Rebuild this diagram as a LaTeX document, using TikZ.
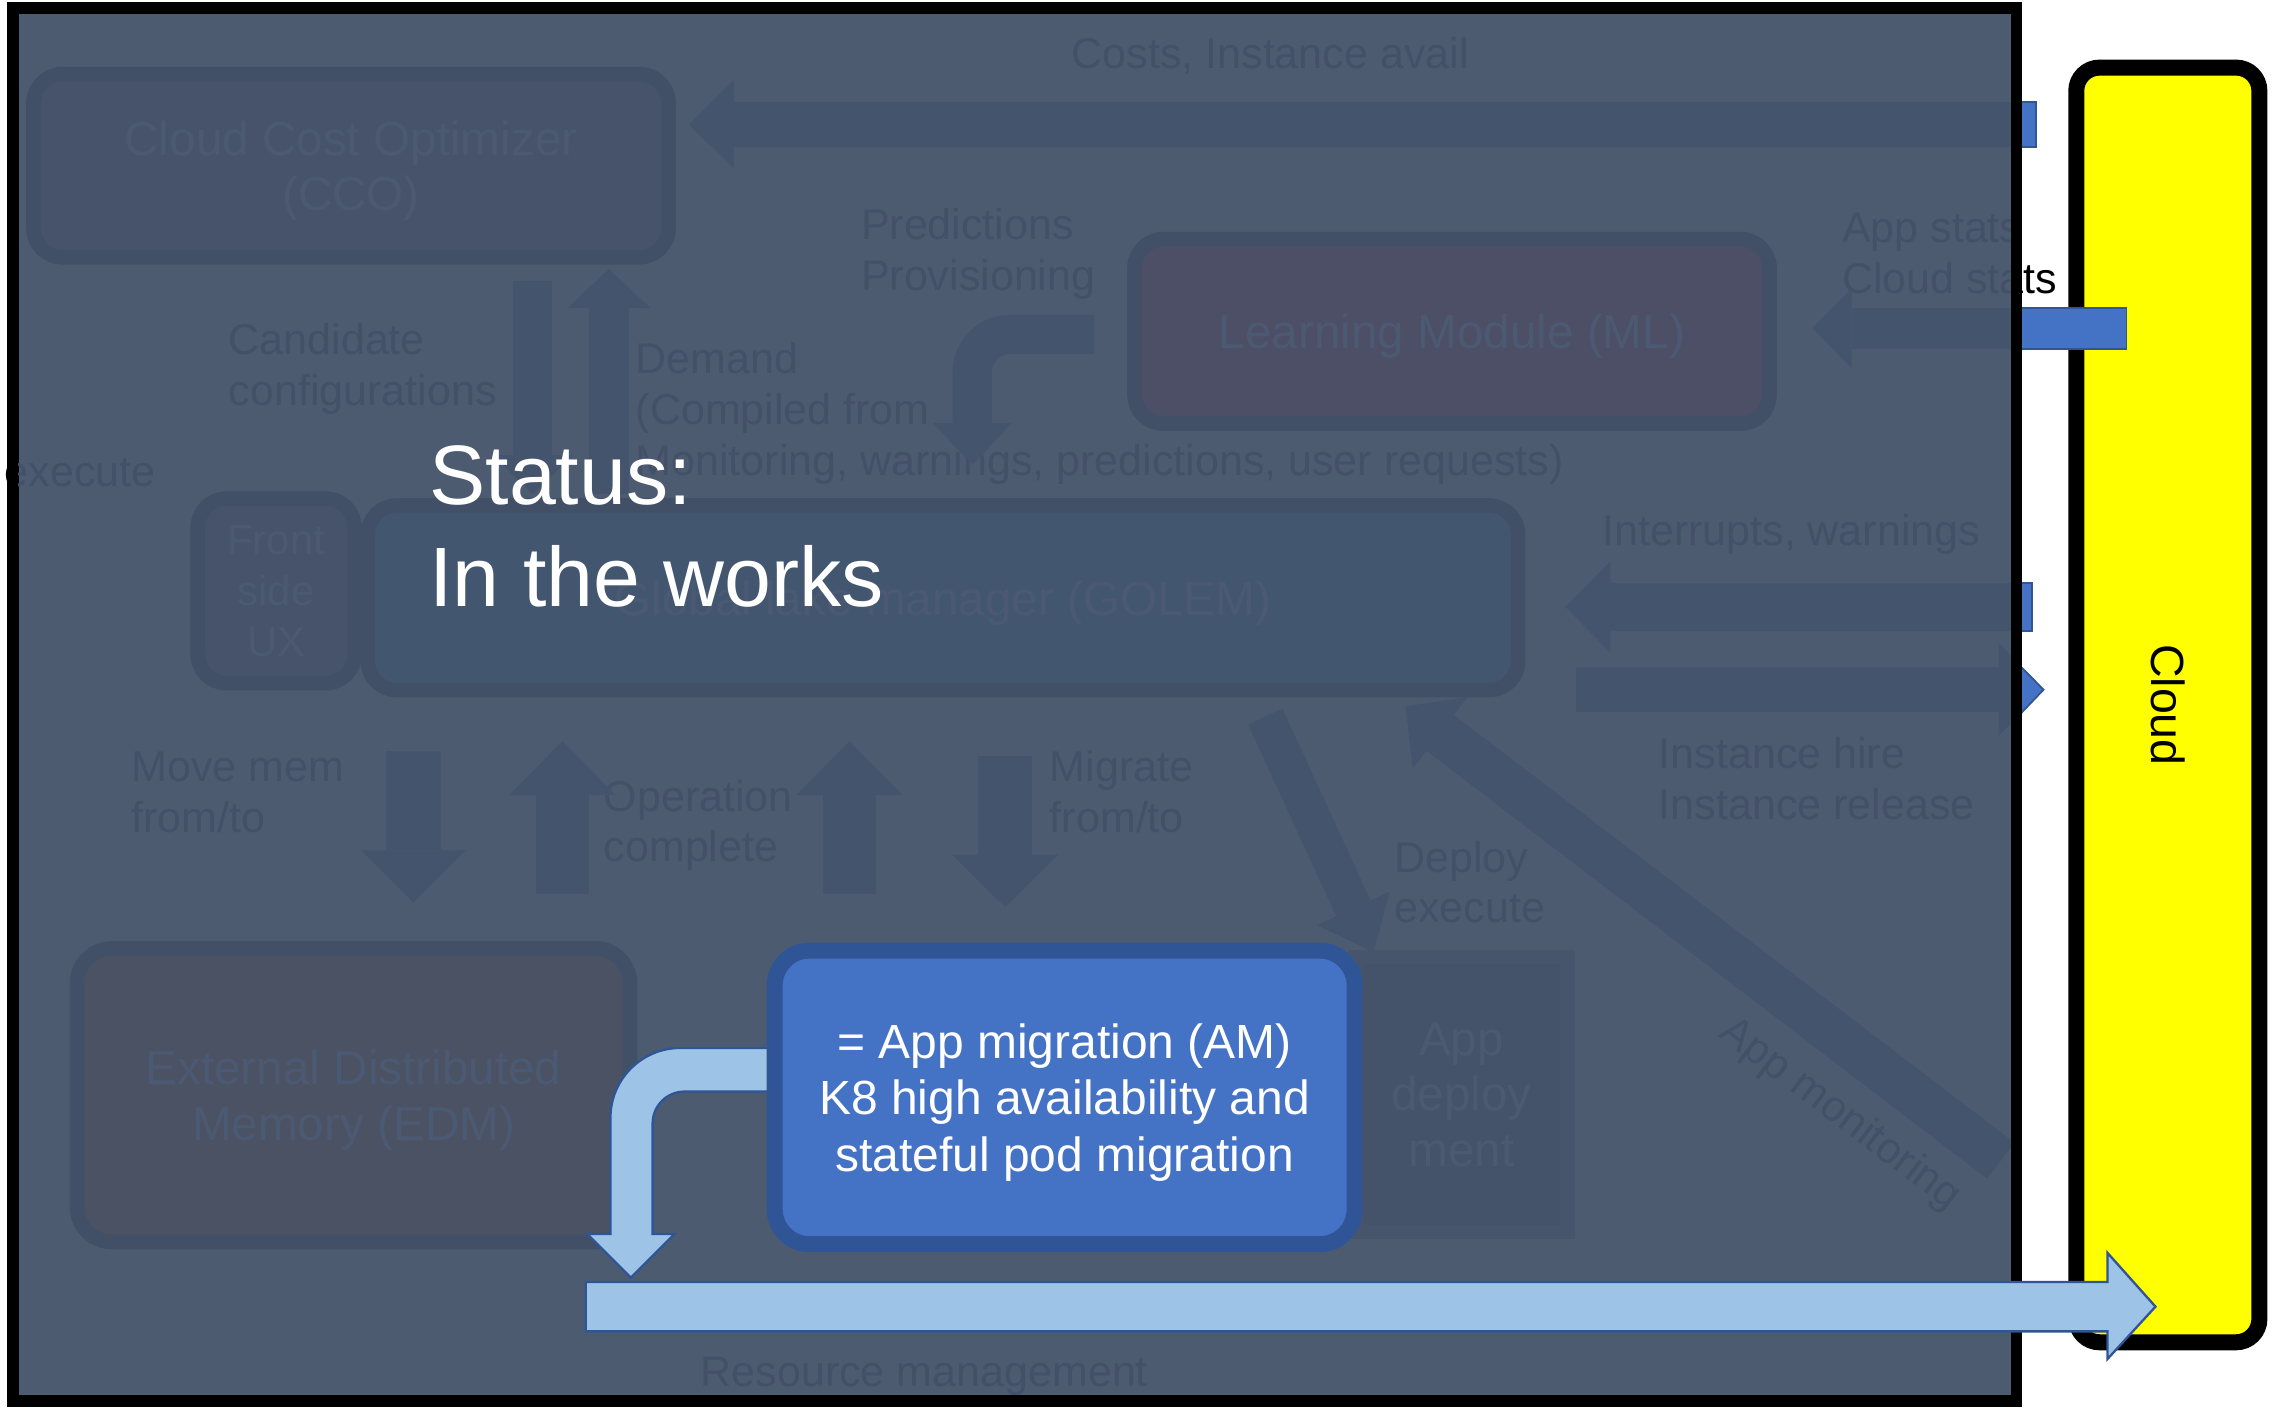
\documentclass[tikz,border=0pt]{standalone}
\usepackage{fontspec}
\setmainfont{Liberation Sans}
\usetikzlibrary{arrows.meta}

\definecolor{slate}{HTML}{4D5B71}
\definecolor{boxline}{HTML}{415067}
\definecolor{boxtext}{HTML}{4B5A72}
\definecolor{labtext}{HTML}{435068}
\definecolor{mutearrow}{HTML}{43546C}
\definecolor{ccofill}{HTML}{46536B}
\definecolor{mlfill}{HTML}{4C4F66}
\definecolor{golemfill}{HTML}{42576F}
\definecolor{edmfill}{HTML}{4A5264}
\definecolor{depfill}{HTML}{44526A}
\definecolor{depline}{HTML}{47556C}
\definecolor{amblue}{HTML}{4472C4}
\definecolor{amline}{HTML}{2F5597}
\definecolor{ltblue}{HTML}{9DC3E6}
\definecolor{cloudyel}{HTML}{FFFF00}

\tikzset{
  box/.style={draw=boxline, line width=5pt, rounded corners=10pt, inner sep=0pt,
    align=center, text depth=0pt, text=boxtext, font=\fontsize{16.4}{19}\selectfont},
  lab/.style={anchor=base west, inner sep=0pt, align=left, text=labtext,
    font=\fontsize{14.8}{17.5}\selectfont},
  fat/.style n args={3}{draw=mutearrow, line width=#1,
    -{Triangle[width=#2, length=#3, line width=0pt]}},
  stub/.style={fill=amblue, draw=amline, line width=0.6pt},
  lbarrow/.style={fill=ltblue, draw=amline, line width=0.8pt},
}

\begin{document}
\begin{tikzpicture}[x=0.5pt, y=-0.5pt]
\useasboundingbox (0,0) rectangle (1568,971);

% cloud
\node[draw=black, line width=5.5pt, fill=cloudyel, rounded corners=8pt, rotate=-90,
  minimum width=438.5pt, minimum height=63pt, inner sep=0pt,
  font=\fontsize{16}{19}\selectfont] (cloud) at (1491.5,485) {Cloud};

% what sticks out of the shade
\draw[stub] (1375,70) rectangle (1401,101);
\draw[stub] (1375,212) rectangle (1463,240);
\draw[stub] (1375,401) rectangle (1398,434);
\draw[stub] (1375,443) -- (1406,474.5) -- (1375,507) -- cycle;
\node[lab, text=black] (statsout) at (1267,202) {App stats\\Cloud stats};
\node[lab, text=black] (execout) at (3,335) {execute};

% shade
\draw[line width=4pt, fill=slate] (9,5.5) rectangle (1387.5,964);

\begin{scope}
\clip (13,9.5) rectangle (1383.5,960);
% boxes
\node[box, fill=ccofill, minimum width=218.5pt, minimum height=63pt] (cco) at (241.5,114) {Cloud Cost Optimizer\\(CCO)};
\node[box, fill=mlfill, minimum width=218.5pt, minimum height=63.5pt] (ml) at (999,228) {Learning Module (ML)};
\node[box, fill=golemfill, minimum width=395.75pt, minimum height=63.5pt] (golem) at (648.75,411.25) {Global lake manager (GOLEM)};
\node[box, fill=ccofill, minimum width=54pt, minimum height=63.5pt, font=\fontsize{14.4}{17.5}\selectfont] (ux) at (190,406.5) {Front\\side\\UX};
\node[box, fill=edmfill, rounded corners=12pt, minimum width=190.25pt, minimum height=101pt] (edm) at (243.25,753.5) {External Distributed\\Memory (EDM)};
\node[box, draw=depline, fill=depfill, sharp corners, minimum width=73pt, minimum height=94.5pt] (dep) at (1005.5,753) {App\\deploy\\ment};

% labels (base = last line)
\node[lab] (costs) at (737,47) {Costs, Instance avail};
\node[lab] (pred) at (592,200) {Predictions\\Provisioning};
\node[lab] (stats) at (1267,202) {App stats\\Cloud stats};
\node[lab] (cand) at (157,279) {Candidate\\configurations};
\node[lab] (demand) at (437,327) {Demand\\(Compiled from\\Monitoring, warnings, predictions, user requests)};
\node[lab] (exec) at (3,335) {execute};
\node[lab] (intr) at (1102,375) {Interrupts, warnings};
\node[lab] (hire) at (1141,564) {Instance hire\\Instance release};
\node[lab] (move) at (90,573) {Move mem\\from/to};
\node[lab] (opc) at (415,593) {Operation\\complete};
\node[lab] (migr) at (722,573) {Migrate\\from/to};
\node[lab] (depl) at (959,635) {Deploy\\execute};
\node[lab, anchor=center, rotate=-37] (mon) at (1266,767) {App monitoring};
\node[lab, anchor=base] (res) at (636,954) {Resource management};

% arrows
\coordinate (a1) at (1401,85.5);   \coordinate (a2) at (474,85.5);
\coordinate (b1) at (1463,226);    \coordinate (b2) at (1247,226);
\coordinate (c1) at (1398,417.5);  \coordinate (c2) at (1077,417.5);
\coordinate (d1) at (1084,474.5);  \coordinate (d2) at (1406,474.5);
\coordinate (e1) at (366.5,193);   \coordinate (e2) at (366.5,340);
\coordinate (f1) at (419,340);     \coordinate (f2) at (419,185);
\coordinate (g1) at (753,230);     \coordinate (g2) at (669,320);
\coordinate (h1) at (284.5,517);   \coordinate (h2) at (284.5,621);
\coordinate (i1) at (387,615);     \coordinate (i2) at (387,510);
\coordinate (j1) at (584.5,615);   \coordinate (j2) at (584.5,510);
\coordinate (k1) at (691.5,520);   \coordinate (k2) at (691.5,624);
\coordinate (l1) at (870.5,493);   \coordinate (l2) at (945,655);
\coordinate (m1) at (1376.5,798.5); \coordinate (m2) at (967,486);
\draw[fat={15.5pt}{30.5pt}{15.5pt}] (a1) -- (a2);
\draw[fat={14pt}{27.5pt}{13.5pt}] (b1) -- (b2);
\draw[fat={16.5pt}{31.5pt}{15.5pt}] (c1) -- (c2);
\draw[fat={15.5pt}{32pt}{15.5pt}] (d1) -- (d2);
\draw[fat={13.5pt}{27.5pt}{13.5pt}] (e1) -- (e2);
\draw[fat={14pt}{28.5pt}{13.5pt}] (f1) -- (f2);
\draw[fat={13.5pt}{27pt}{14.5pt}, rounded corners=13pt] (g1) -- (g2 |- g1) -- (g2);
\draw[fat={19pt}{36pt}{18pt}] (h1) -- (h2);
\draw[fat={18pt}{36.5pt}{18.5pt}] (i1) -- (i2);
\draw[fat={18.5pt}{36.5pt}{18.5pt}] (j1) -- (j2);
\draw[fat={18.5pt}{36.5pt}{18pt}] (k1) -- (k2);
\draw[fat={13pt}{27.5pt}{16.5pt}] (l1) -- (l2);
\draw[fat={15.5pt}{31pt}{15pt}] (m1) -- (m2);
\end{scope}

% on top
\node[anchor=base west, align=left, inner sep=0pt, text=white,
  font=\fontsize{29}{35}\selectfont] (status) at (295,417) {Status:\\In the works};

\draw[lbarrow] (545,721) -- (468,721) .. controls (441.5,721) and (420,742.5) .. (420,769)
  -- (420,849) -- (404,849) -- (434,879) -- (464,849) -- (449,849) -- (449,773)
  .. controls (449,760.8) and (458.8,751) .. (471,751) -- (545,751) -- cycle;
\node[draw=amline, line width=5.5pt, fill=amblue, rounded corners=12pt, inner sep=0pt,
  minimum width=199.5pt, minimum height=101pt, align=center, text depth=0pt, text=white,
  font=\fontsize{16.5}{19.5}\selectfont] (am) at (732.5,755)
  {= App migration (AM)\\K8 high availability and\\stateful pod migration};
\draw[lbarrow] (403,882) -- (1450,882) -- (1450,862) -- (1483,899) -- (1450,935)
  -- (1450,916) -- (403,916) -- cycle;

\end{tikzpicture}
\end{document}
